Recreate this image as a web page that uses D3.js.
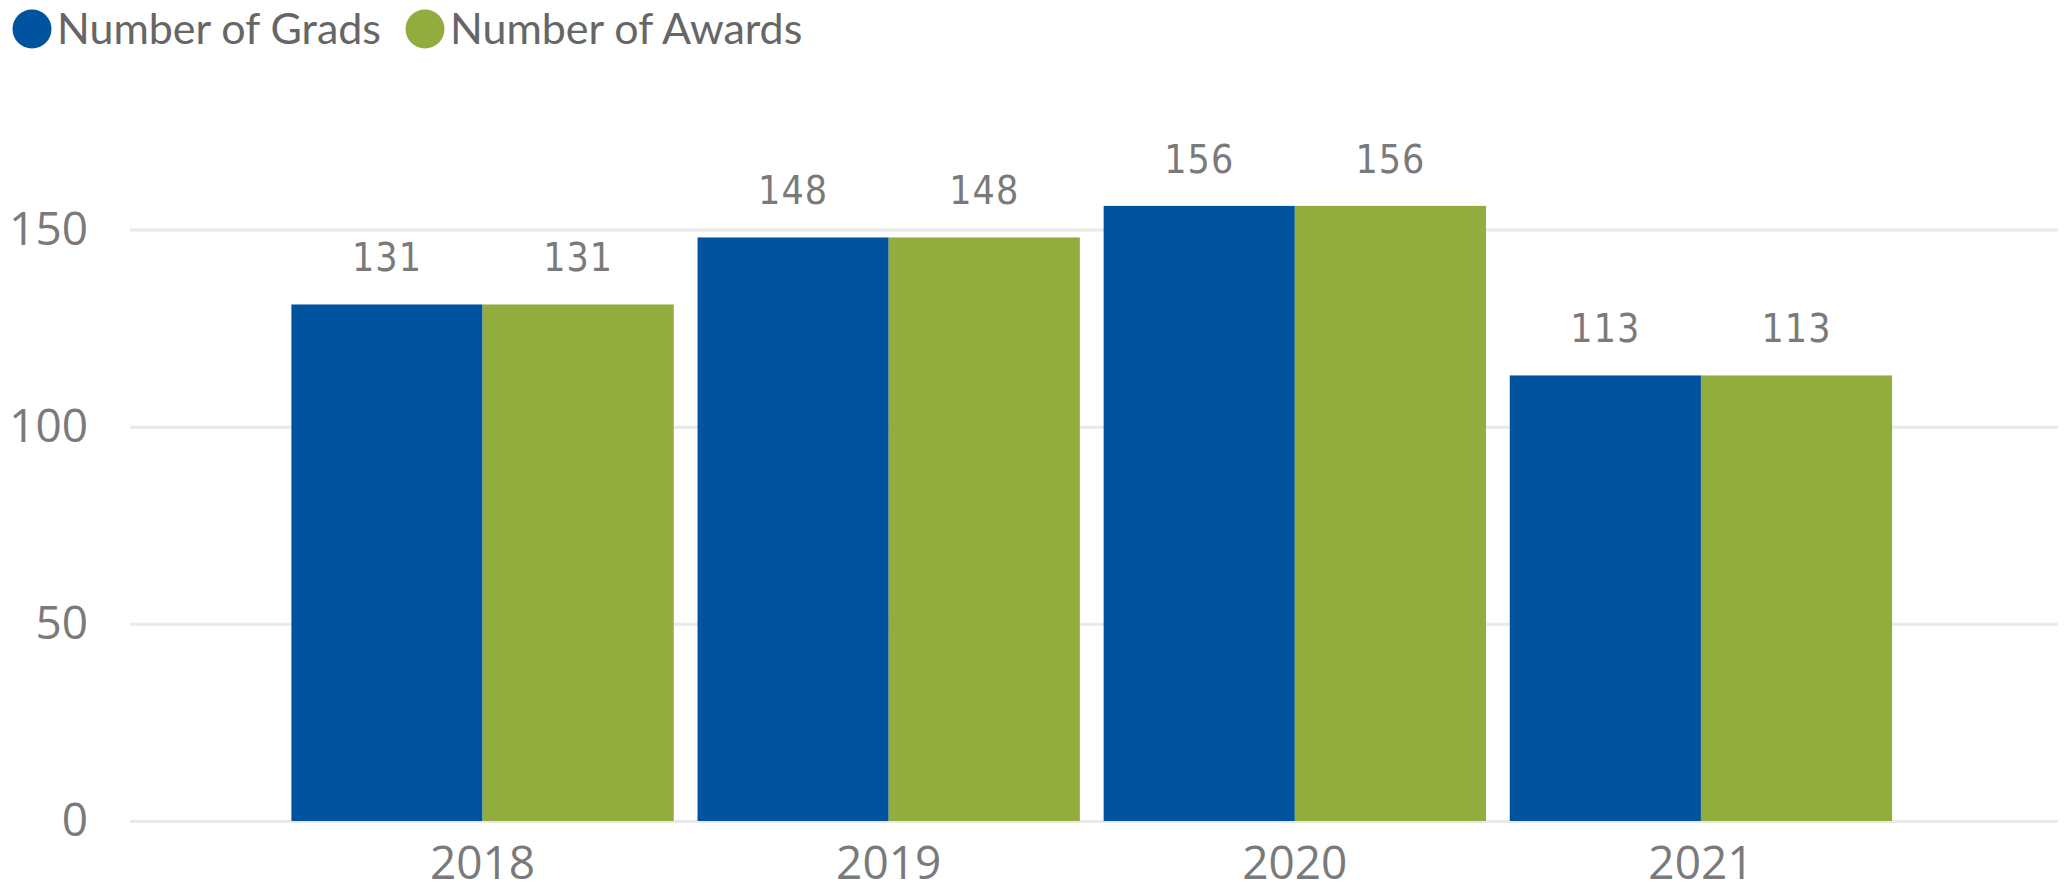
<!DOCTYPE html>
<html>
<head>
<meta charset="utf-8">
<script src="https://cdn.jsdelivr.net/npm/d3@7"></script>
<style>
  html, body { margin: 0; padding: 0; background: #ffffff; }
  svg { display: block; }
</style>
</head>
<body>
<svg id="chart" width="2068" height="893"></svg>
<script>
// Graduates and awards per year
const years = ["2018", "2019", "2020", "2021"];
const seriesNames = ["Number of Grads", "Number of Awards"];
const grads = [131, 148, 156, 113];
const awards = [131, 148, 156, 113];
const yTicks = [0, 50, 100, 150];
const seriesColors = ["#00539f", "#92ac3e"];

const svg = d3.select("#chart");

const gridLeft = 130, gridRight = 2058;
const y0 = 821, pxPerUnit = 3.943;

const y = d3.scaleLinear().domain([0, 150]).range([y0, y0 - 150 * pxPerUnit]);
const x = d3.scaleBand().domain(years).range([279.5, 1904]).paddingInner(0.0586).paddingOuter(0.0293);
const xs = d3.scaleBand().domain(seriesNames).range([0, x.bandwidth()]);

const tickFont = "'Open Sans', 'Noto Sans', sans-serif";
const legendFont = "Lato, 'Open Sans', sans-serif";
const labelFont = "'DejaVu Sans Condensed', 'Liberation Sans Narrow', sans-serif";

// Horizontal gridlines and y tick labels
const yAxis = svg.append("g")
  .attr("transform", `translate(${gridLeft},0)`)
  .call(d3.axisLeft(y).tickValues(yTicks).tickSize(-(gridRight - gridLeft)).tickPadding(42).tickFormat(d3.format("d")));
yAxis.select(".domain").remove();
yAxis.selectAll(".tick line").attr("stroke", "#e9e9e9").attr("stroke-width", 3);
yAxis.selectAll(".tick text")
  .attr("fill", "#7a7a7a")
  .style("font-family", tickFont)
  .style("font-size", "46px");

// Year labels
const xAxis = svg.append("g")
  .attr("transform", `translate(0,${y0})`)
  .call(d3.axisBottom(x).tickSize(0).tickPadding(25));
xAxis.select(".domain").remove();
xAxis.selectAll(".tick text")
  .attr("fill", "#7a7a7a")
  .style("font-family", tickFont)
  .style("font-size", "46px");

// Bars
const rows = years.map((yr, i) => ({ year: yr, values: [grads[i], awards[i]] }));
const groups = svg.append("g").selectAll("g")
  .data(rows).join("g")
  .attr("transform", d => `translate(${x(d.year)},0)`);

groups.selectAll("rect")
  .data(d => d.values.map((v, j) => ({ name: seriesNames[j], value: v, j })))
  .join("rect")
  .attr("x", d => xs(d.name))
  .attr("width", xs.bandwidth())
  .attr("y", d => y(d.value))
  .attr("height", d => y(0) - y(d.value))
  .attr("fill", d => seriesColors[d.j]);

// Value labels above bars
groups.selectAll("text.value")
  .data(d => d.values.map((v, j) => ({ name: seriesNames[j], value: v })))
  .join("text")
  .attr("class", "value")
  .attr("x", d => xs(d.name) + xs.bandwidth() / 2)
  .attr("y", d => y(d.value) - 33)
  .attr("text-anchor", "middle")
  .attr("fill", "#7a7a7a")
  .style("font-family", labelFont)
  .style("font-size", "39px")
  .style("letter-spacing", "1px")
  .text(d => d.value);

// Legend
const legend = svg.append("g");
const legendX = [32, 425];
seriesNames.forEach((name, i) => {
  legend.append("circle")
    .attr("cx", legendX[i]).attr("cy", 29).attr("r", 19.5)
    .attr("fill", seriesColors[i]);
  legend.append("text")
    .attr("x", legendX[i] + 25).attr("y", 44)
    .attr("fill", "#666666")
    .style("font-family", legendFont)
    .style("font-size", "43px")
    .text(name);
});
</script>
</body>
</html>
